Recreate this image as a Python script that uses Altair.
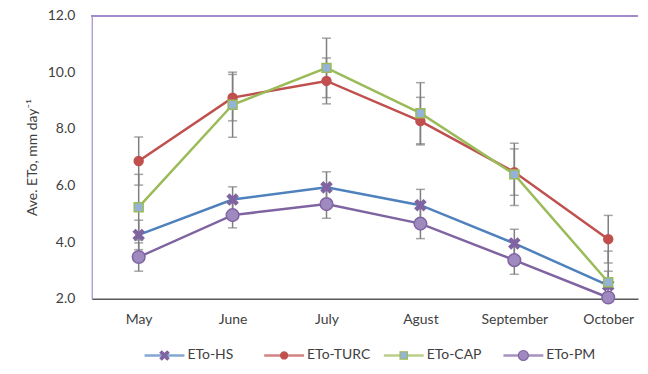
import altair as alt
import pandas as pd

months = ["May", "June", "July", "Agust", "September", "October"]
series = ["ETo-HS", "ETo-TURC", "ETo-CAP", "ETo-PM"]
hs = [4.25, 5.50, 5.93, 5.30, 3.95, 2.47]
turc = [6.86, 9.10, 9.69, 8.27, 6.47, 4.10]
cap = [5.23, 8.85, 10.15, 8.55, 6.39, 2.58]
pm = [3.47, 4.95, 5.34, 4.65, 3.36, 2.04]
hs_err = [0.52, 0.45, 0.55, 0.56, 0.50, 0.50]
turc_err = [0.85, 0.82, 0.81, 0.84, 0.82, 0.84]
cap_err = [1.16, 1.15, 1.05, 1.08, 1.10, 1.10]
pm_err = [0.50, 0.45, 0.50, 0.53, 0.50, 0.50]

vals = {"ETo-HS": hs, "ETo-TURC": turc, "ETo-CAP": cap, "ETo-PM": pm}
errs = {"ETo-HS": hs_err, "ETo-TURC": turc_err, "ETo-CAP": cap_err, "ETo-PM": pm_err}

rows = []
for s in series:
    for i, m in enumerate(months):
        v = vals[s][i]
        e = errs[s][i]
        rows.append({"series": s, "idx": i, "month": m, "val": v,
                     "lo": max(v - e, 2.0), "hi": v + e})
df = pd.DataFrame(rows)
leg_df = pd.DataFrame({"series": series, "li": list(range(len(series)))})

line_colors = ["#4F81BD", "#C0504D", "#9BBB59", "#8064A2"]
marker_fill = ["#8064A2", "#C0504D", "#95B3D7", "#9F8AC0"]
marker_stroke = ["#8064A2", "#C0504D", "#9BBB59", "#8064A2"]
xpath = "M-1,-0.6L-0.6,-1L0,-0.4L0.6,-1L1,-0.6L0.4,0L1,0.6L0.6,1L0,0.4L-0.6,1L-1,0.6L-0.4,0Z"
marker_shapes = [xpath, "circle", "square", "circle"]
marker_sizes = [110, 80, 80, 160]
legend_sizes = [80, 50, 55, 100]

FONT = "Lato"
TXT = "#404040"
PURPLE = "#A08CCB"

label_expr = "[" + ",".join("'%s'" % m for m in months) + "][datum.value]"

x = alt.X("idx:Q",
          scale=alt.Scale(domain=[-0.5, 5.317], nice=False, zero=False),
          axis=alt.Axis(values=list(range(len(months))), labelExpr=label_expr,
                        title=None, ticks=False, grid=False, domainColor="#595959",
                        domainWidth=1.5, labelPadding=14, labelFontSize=14,
                        labelColor=TXT, labelFont=FONT))
y = alt.Y("val:Q",
          scale=alt.Scale(domain=[2, 12], nice=False, zero=False),
          axis=alt.Axis(values=[2, 4, 6, 8, 10, 12], format=".1f", ticks=False,
                        grid=False, domainColor=PURPLE, domainWidth=1.2,
                        labelPadding=17, labelFontSize=14, labelColor=TXT,
                        labelFont=FONT, title="Ave. ETo, mm day⁻¹",
                        titleFont=FONT, titleFontSize=14, titleFontWeight="normal",
                        titleColor=TXT, titlePadding=8))

base = alt.Chart(df)
color_scale = alt.Scale(domain=series, range=line_colors)

top = base.mark_rule(color=PURPLE, strokeWidth=1.2).encode(y=alt.datum(12))

err_rule = base.mark_rule(color="#7F7F7F", strokeWidth=1.5).encode(
    x=x, y=alt.Y("lo:Q"), y2="hi:Q")
cap_hi = base.mark_tick(color="#7F7F7F", thickness=1.5, size=9, orient="horizontal").encode(
    x=x, y=alt.Y("hi:Q"))
cap_lo = base.mark_tick(color="#7F7F7F", thickness=1.5, size=9, orient="horizontal").transform_filter(
    "datum.lo > 2.0").encode(x=x, y=alt.Y("lo:Q"))

lines = base.mark_line(strokeWidth=2.5).encode(
    x=x, y=y,
    color=alt.Color("series:N", scale=color_scale, legend=None),
    detail="series:N")

point_layers = []
for s, shp, sz, fc, sc in zip(series, marker_shapes, marker_sizes, marker_fill, marker_stroke):
    point_layers.append(
        base.transform_filter(alt.datum.series == s).mark_point(
            shape=shp, size=sz, filled=True, fill=fc, stroke=sc, strokeWidth=1.5, opacity=1
        ).encode(x=x, y=y)
    )

main = alt.layer(top, err_rule, cap_hi, cap_lo, lines, *point_layers)

# legend built from the series list
lbase = alt.Chart(leg_df)
lx = alt.X("li:Q", scale=alt.Scale(domain=[0, 3], range=[73, 433]), axis=None)
ly = alt.value(341)
leg_lines = lbase.mark_tick(orient="horizontal", size=40, thickness=2.5).encode(
    x=lx, y=ly, color=alt.Color("series:N", scale=color_scale, legend=None))
leg_pts = []
for s, shp, sz, fc, sc in zip(series, marker_shapes, legend_sizes, marker_fill, marker_stroke):
    leg_pts.append(
        lbase.transform_filter(alt.datum.series == s).mark_point(
            shape=shp, size=sz, filled=True, fill=fc, stroke=sc, strokeWidth=1.2, opacity=1
        ).encode(x=lx, y=ly)
    )
leg_text = lbase.mark_text(align="left", baseline="middle", dx=23, font=FONT,
                           fontSize=14, color=TXT).encode(x=lx, y=ly, text="series:N")
legend = alt.layer(leg_lines, *leg_pts, leg_text)

chart = alt.layer(main, legend).resolve_scale(x="independent").properties(
    width=548, height=284,
    autosize=alt.AutoSizeParams(type="none"),
    padding={"left": 84, "top": 7, "right": 2, "bottom": 64},
    background="white",
).configure_view(stroke=None)

chart.save("out.html", embed_options={"renderer": "svg", "actions": False})
